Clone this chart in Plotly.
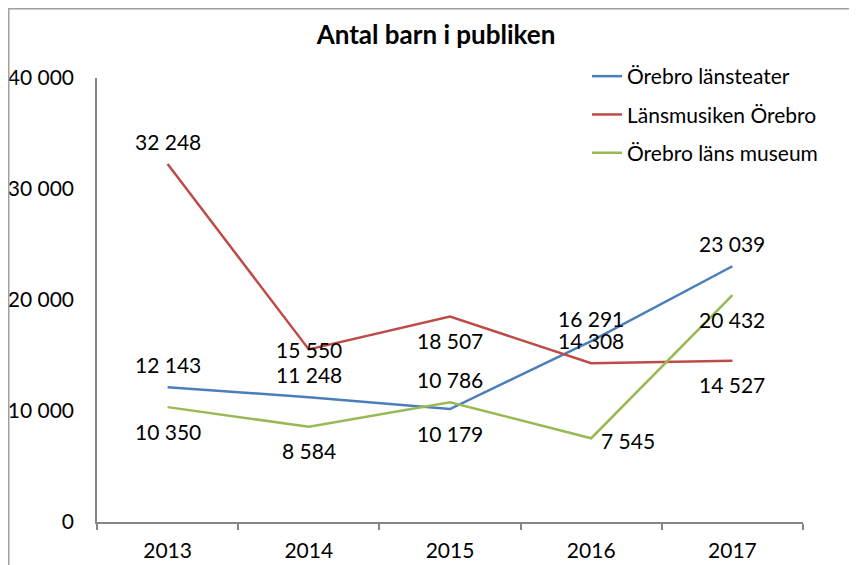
import plotly.graph_objects as go

years = ["2013", "2014", "2015", "2016", "2017"]
teater = [12143, 11248, 10179, 16291, 23039]
musiken = [32248, 15550, 18507, 14308, 14527]
museum = [10350, 8584, 10786, 7545, 20432]
series_names = ["Örebro länsteater", "Länsmusiken Örebro", "Örebro läns museum"]
y_tickvals = [0, 10000, 20000, 30000, 40000]
y_ticktext = ["0", "10 000", "20 000", "30 000", "40 000"]

# label placement per point (style)
label_pos = [
    ["above", "above", "below", "above", "above"],
    ["above", "center", "below", "above", "below"],
    ["below", "below", "above", "right", "below"],
]
colors = ["#4A7EBB", "#BE4B48", "#98B954"]
FONT = "Lato, Calibri, sans-serif"
FS = 21

# page body has an 8px margin; figure sized to fit the 857x565 window
W, H = 849, 557
L, T, R, B = 89, 70, 54, 43
PW, PH = W - L - R, H - T - B

def fmt(v):
    return f"{v:,}".replace(",", " ")

fig = go.Figure()
all_series = [teater, musiken, museum]
for i, (name, vals) in enumerate(zip(series_names, all_series)):
    fig.add_trace(go.Scatter(
        x=years, y=vals, mode="lines", name=name,
        line=dict(color=colors[i], width=2.5),
        legendgroup=f"g{i}",
    ))

annotations = []
for i, vals in enumerate(all_series):
    for k, (v, p) in enumerate(zip(vals, label_pos[i])):
        a = dict(x=k, y=v, xref="x", yref="y", text=fmt(v), showarrow=False,
                 font=dict(family=FONT, size=FS, color="#000"))
        if p == "above":
            a.update(yshift=23)
        elif p == "below":
            a.update(yshift=-24)
        elif p == "right":
            a.update(xanchor="left", xshift=8, yshift=-2)
        annotations.append(a)

fig.update_layout(
    width=W, height=H,
    margin=dict(l=L, r=R, t=T, b=B, autoexpand=False),
    paper_bgcolor="white", plot_bgcolor="white",
    title=dict(text="<b>Antal barn i publiken</b>", x=428 / W, xanchor="center",
               y=1 - 27 / H, yanchor="middle", automargin=False,
               font=dict(family=FONT, size=26, color="#000")),
    font=dict(family=FONT, size=FS, color="#000"),
    showlegend=True,
    legend=dict(x=(579 - L) / PW, y=1 + (T - 48) / PH, xanchor="left", yanchor="top",
                bgcolor="rgba(0,0,0,0)", tracegroupgap=8,
                font=dict(family=FONT, size=FS, color="#000"),
                itemwidth=30),
    annotations=annotations,
    shapes=[dict(type="rect", xref="paper", yref="paper",
                 x0=-(L - 0.75) / PW, x1=1.2, y0=-0.2, y1=1 + (T - 0.75) / PH,
                 line=dict(color="#A0A0A0", width=1.5), fillcolor="rgba(0,0,0,0)")],
)
fig.update_xaxes(type="category", range=[-0.5, 4.5], automargin=False, tickangle=0,
                 showgrid=False, showline=True, linecolor="#868686",
                 linewidth=1.5, ticks="outside", tickson="boundaries", ticklen=6,
                 tickcolor="#868686", tickwidth=1.5, ticklabelstandoff=9,
                 tickfont=dict(family=FONT, size=FS, color="#000"))
fig.update_yaxes(range=[0, 40000], tickvals=y_tickvals, ticktext=y_ticktext, automargin=False,
                 showgrid=False, zeroline=False, showline=True, linecolor="#868686",
                 linewidth=1.5, ticks="", ticklabelstandoff=17,
                 tickfont=dict(family=FONT, size=FS, color="#000"))

fig.write_html("out.html")
